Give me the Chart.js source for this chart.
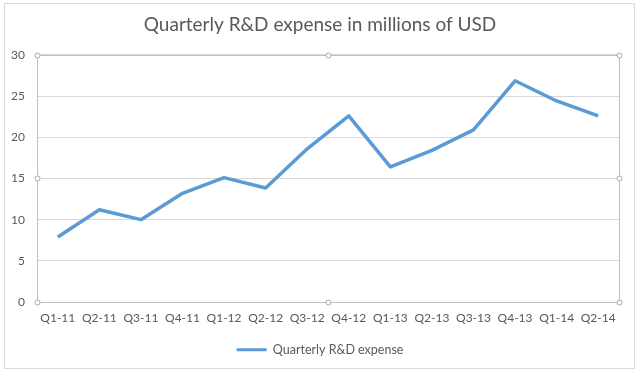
<!DOCTYPE html>
<html>
<head>
<meta charset="utf-8">
<script src="https://cdn.jsdelivr.net/npm/chart.js@4"></script>
<style>
  html, body { margin: 0; padding: 0; background: #fff; }
  #wrap { width: 640px; height: 372px; position: relative; }
</style>
</head>
<body>
<div id="wrap"><canvas id="rdChart" width="640" height="372"></canvas></div>
<script>
const quarters = ["Q1-11", "Q2-11", "Q3-11", "Q4-11", "Q1-12", "Q2-12", "Q3-12",
                  "Q4-12", "Q1-13", "Q2-13", "Q3-13", "Q4-13", "Q1-14", "Q2-14"];
const rdExpense = [7.9, 11.2, 10.0, 13.2, 15.1, 13.85, 18.6, 22.6, 16.4, 18.4, 20.9, 26.85, 24.4, 22.6];
const yTicks = [0, 5, 10, 15, 20, 25, 30];

const fontFamily = "Lato, 'Open Sans', sans-serif";
const textGray = "#595959";
const lineBlue = "#5B9BD5";

// frame round the chart, and the plot area box with its handles
const frames = {
    id: "frames",
    beforeDraw(chart) {
        const ctx = chart.ctx;
        ctx.save();
        ctx.strokeStyle = "#d9d9d9";
        ctx.lineWidth = 1;
        ctx.strokeRect(4.5, 3.5, 630, 365);
        ctx.restore();
    },
    afterDraw(chart) {
        const ctx = chart.ctx;
        const a = chart.chartArea;
        ctx.save();
        ctx.strokeStyle = "#bfbfbf";
        ctx.lineWidth = 1;
        ctx.strokeRect(Math.round(a.left) + 0.5, Math.round(a.top) + 0.5,
                       Math.round(a.right - a.left), Math.round(a.bottom - a.top));
        const mx = (a.left + a.right) / 2, my = (a.top + a.bottom) / 2;
        const pts = [[a.left, a.top], [mx, a.top], [a.right, a.top],
                     [a.left, my], [a.right, my],
                     [a.left, a.bottom], [mx, a.bottom], [a.right, a.bottom]];
        pts.forEach(([x, y]) => {
            ctx.beginPath();
            ctx.arc(Math.round(x) + 0.5, Math.round(y) + 0.5, 2.5, 0, Math.PI * 2);
            ctx.fillStyle = "#fff";
            ctx.fill();
            ctx.strokeStyle = "#a6a6a6";
            ctx.stroke();
        });
        ctx.restore();
    },
};

const ctx = document.getElementById("rdChart").getContext("2d");

window.rdChart = new Chart(ctx, {
    type: "line",
    data: {
        labels: quarters,
        datasets: [
            {
                label: "Quarterly R&D expense",
                data: rdExpense,
                borderColor: lineBlue,
                backgroundColor: lineBlue,
                borderWidth: 3.5,
                tension: 0,
                borderJoinStyle: "round",
                fill: false,
            },
        ],
    },
    options: {
        responsive: false,
        animation: false,
        devicePixelRatio: 1,
        elements: {
            point: {
                radius: 0,
            },
        },
        layout: {
            padding: { left: 0, right: 0, top: 0, bottom: 6 },
        },
        scales: {
            x: {
                offset: true,
                grid: {
                    display: false,
                    drawTicks: false,
                },
                border: { display: false },
                ticks: {
                    color: textGray,
                    font: { family: fontFamily, size: 12 },
                    padding: 9,
                    maxRotation: 0,
                    autoSkip: false,
                },
            },
            y: {
                min: 0,
                max: 30,
                afterBuildTicks(scale) {
                    scale.ticks = yTicks.map((v) => ({ value: v }));
                },
                afterFit(scale) {
                    scale.width = 37;
                },
                grid: {
                    color: "#d9d9d9",
                    drawTicks: false,
                },
                border: { display: false },
                ticks: {
                    color: textGray,
                    font: { family: fontFamily, size: 12 },
                    padding: 12,
                },
            },
            // empty strip on the right so title and legend centre on the whole chart
            yRight: {
                position: "right",
                min: 0,
                max: 30,
                afterFit(scale) {
                    scale.width = 21;
                },
                grid: { display: false },
                border: { display: false },
                ticks: { display: false },
            },
        },
        plugins: {
            title: {
                display: true,
                position: "top",
                text: "Quarterly R&D expense in millions of USD",
                color: textGray,
                font: { family: fontFamily, size: 19, weight: "normal" },
                padding: { top: 13, bottom: 19 },
            },
            legend: {
                position: "bottom",
                labels: {
                    color: textGray,
                    font: { family: fontFamily, size: 12.5 },
                    boxWidth: 30,
                    boxHeight: 3,
                    padding: 9,
                    generateLabels(chart) {
                        const items = Chart.defaults.plugins.legend.labels.generateLabels(chart);
                        items.forEach((it) => { it.lineWidth = 0; });
                        return items;
                    },
                },
            },
            tooltip: { enabled: false },
        },
    },
    plugins: [frames],
});
</script>
</body>
</html>
